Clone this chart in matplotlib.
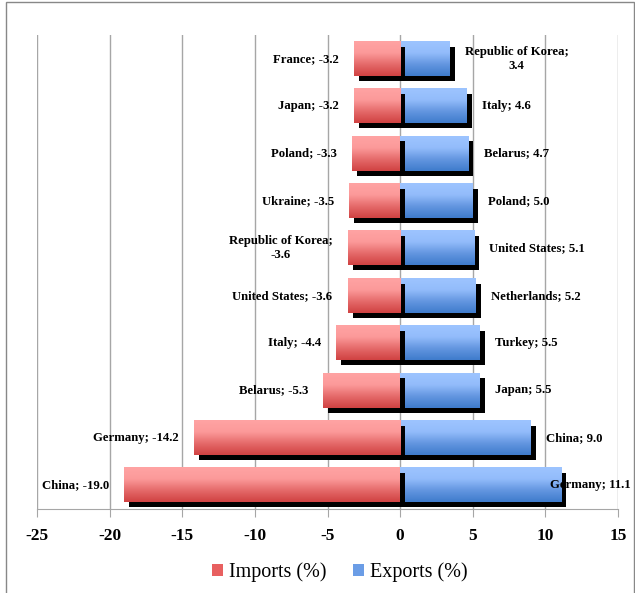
import matplotlib
matplotlib.use("Agg")
import matplotlib.pyplot as plt
import matplotlib.transforms as mtransforms
from matplotlib.colors import LinearSegmentedColormap
from matplotlib.patches import Rectangle
import numpy as np

# data, bottom row first
imp_names = ["China", "Germany", "Belarus", "Italy", "United States",
             "Republic of Korea", "Ukraine", "Poland", "Japan", "France"]
imp_vals = [-19.0, -14.2, -5.3, -4.4, -3.6, -3.6, -3.5, -3.3, -3.2, -3.2]
exp_names = ["Germany", "China", "Japan", "Turkey", "Netherlands",
             "United States", "Poland", "Belarus", "Italy", "Republic of Korea"]
exp_vals = [11.1, 9.0, 5.5, 5.5, 5.2, 5.1, 5.0, 4.7, 4.6, 3.4]
xticks = [-25, -20, -15, -10, -5, 0, 5, 10, 15]

red_cm = LinearSegmentedColormap.from_list("r", ["#d04242", "#e56a6a", "#fc9a9a", "#ffa3a3"])
blue_cm = LinearSegmentedColormap.from_list("b", ["#3f7ccc", "#6396e0", "#93bcfb", "#9dc4ff"])

fig = plt.figure(figsize=(6.35, 5.93), dpi=100)
ax = fig.add_axes([37/635, 1-509/593, 581/635, 474/593])

h = 0.72
shadow = mtransforms.offset_copy(ax.transData, fig=fig, x=5, y=-5, units='dots')
grad = np.linspace(0, 1, 64).reshape(-1, 1)

def draw_bar(y, v, cmap, z):
    x0, x1 = min(0, v), max(0, v)
    ax.add_patch(Rectangle((x0, y-h/2), x1-x0, h, facecolor='black',
                           edgecolor='none', transform=shadow, zorder=z))
    ax.imshow(grad, cmap=cmap, extent=(x0, x1, y-h/2, y+h/2), origin='lower',
              aspect='auto', interpolation='bicubic', zorder=z+1)

def label(n, v):
    if n == "Republic of Korea":
        return "%s;\n%.1f" % (n, v)
    return "%s; %.1f" % (n, v)

lab_font = dict(family='Liberation Serif', weight='bold', fontsize=9.2)
for i in range(len(exp_vals)):
    draw_bar(i, exp_vals[i], blue_cm, 2)
for i in range(len(imp_vals)):
    draw_bar(i, imp_vals[i], red_cm, 4)

for i, (n, v) in enumerate(zip(imp_names, imp_vals)):
    ax.text(v - 1.05, i, label(n, v), ha='right', va='center',
            multialignment='center', zorder=7, **lab_font)
for i, (n, v) in enumerate(zip(exp_names, exp_vals)):
    x = v + 1.05
    ha = 'left'
    if x + 5 > 15.5:
        x, ha = 15.85, 'right'
    ax.text(x, i, label(n, v), ha=ha, va='center', multialignment='center',
            zorder=7, clip_on=False, **lab_font)

ax.set_xlim(-25, 15)
ax.set_ylim(-0.5, 9.5)
ax.set_xticks(xticks)
ax.set_xticklabels([str(t) for t in xticks], family='Liberation Serif',
                   weight='bold', fontsize=12.5)
ax.set_yticks([])
ax.grid(axis='x', color='#a6a6a6', linewidth=1, zorder=0)
ax.set_axisbelow(True)
for sp in ['top', 'right', 'left']:
    ax.spines[sp].set_visible(False)
ax.spines['bottom'].set_color('#a6a6a6')
ax.tick_params(axis='x', direction='out', length=6, color='#a6a6a6', pad=8)

# legend
hr = Rectangle((0, 0), 1, 1, facecolor='#e86060', edgecolor='none')
hb = Rectangle((0, 0), 1, 1, facecolor='#6b9de6', edgecolor='none')
fig.legend([hr, hb], ["Imports (%)", "Exports (%)"], loc='center',
           bbox_to_anchor=(340/635, 1-572/593), ncol=2, frameon=False,
           prop={'family': 'Liberation Serif', 'size': 14.5},
           handlelength=0.55, handleheight=0.55, handletextpad=0.3, columnspacing=1.3)

# chart border
fig.add_artist(Rectangle((6/635, -0.01), 628/635, 1-2/593+0.01, transform=fig.transFigure,
                         fill=False, edgecolor='#888888', linewidth=1))

fig.savefig("out.png", dpi=100)
